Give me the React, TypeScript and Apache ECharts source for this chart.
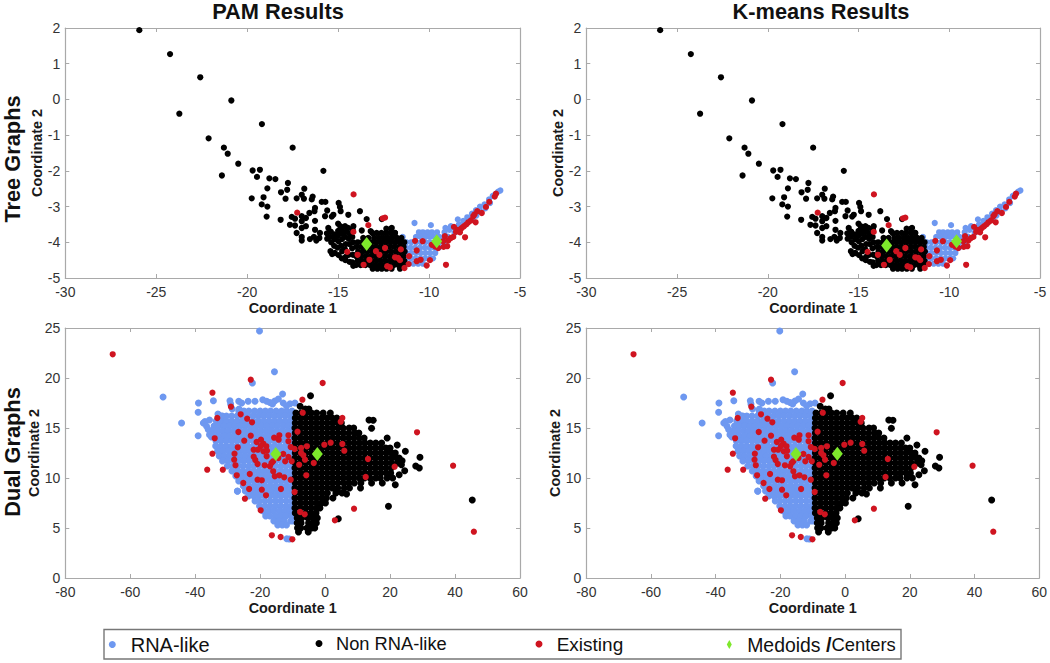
import React, { useEffect, useRef } from "react";
import * as echarts from "echarts";

type Row = number[]; // first value is y, the rest are x values read along that height
const fromRows = (rows: Row[]) => rows.flatMap((r) => r.slice(1).map((x) => [x, r[0]]));

const panelTitles = ["PAM Results", "K-means Results"];
const rowTitles = ["Tree Graphs", "Dual Graphs"];
const xTitle = "Coordinate 1";
const yTitle = "Coordinate 2";
const legendNames = ["RNA-like", "Non RNA-like", "Existing", "Medoids/Centers"];

// ---- Tree graphs ----
const treeBlackSparse = [
  [-25.93,1.94],[-24.24,1.27],[-22.58,0.62],[-20.87,-0.03],[-23.73,-0.4],[-19.19,-0.69],[-22.12,-1.09],[-21.28,-1.35],[-21.07,-1.52],[-17.5,-1.35],
  [-20.49,-1.8],[-21.39,-2.13],[-19.7,-1.99],[-19.3,-1.97],[-15.81,-2],[-19.46,-2.17],[-18.78,-2.21],[-18.45,-2.23],[-17.76,-2.34],[-18.89,-2.49],
  [-17.8,-2.53],[-16.86,-2.5],[-18.14,-2.6],[-19.75,-2.77],[-19.1,-2.74],[-17.89,-2.78],[-17.28,-2.77],[-17,-2.67],[-16.88,-2.78],[-16.4,-2.72],
  [-16.45,-2.8],[-15.9,-2.87],[-15.7,-2.87],[-14.97,-2.9],[-14.9,-3.01],[-19.2,-2.94],[-18.89,-3],[-18.93,-3.28],[-18.16,-3.37],[-13.8,-3.13],
  [-16.27,-3.04],[-16.3,-3.13],[-16.58,-3.18],[-16.77,-3.32],[-17,-3.27],[-17.55,-3.29],[-17.37,-3.34],[-17.65,-3.51],[-17.37,-3.53],[-17,-3.41],
  [-16.77,-3.55],[-17,-3.6],[-17.28,-3.74],[-17,-3.85],[-17,-3.95],[-16.55,-3.91],[-16.33,-3.85],[-16.27,-3.4],[-16.27,-3.65],[-16,-3.74],
  [-16.03,-3.88],[-16.2,-3.95],[-15.72,-3.27],[-15.6,-3.11],[-15.26,-3.23],[-15.35,-3.28],[-14.86,-3.13],[-14.44,-3.23],[-15.54,-3.6],[-15,-3.48],
  [-14.62,-3.55],[-14.16,-3.55],[-13.43,-3.35],[-13.7,-3.67],[-13.21,-3.69],[-12.6,-3.35],[-12.05,-3.6],[-11.87,-3.74],[-14.88,-3.55],[-14.45,-3.6],
  [-15.62,-3.75],[-15.6,-3.9],[-15.4,-3.7],[-15.42,-3.85],[-15.38,-4],[-15.42,-4.25],[-15.33,-4.33],[-15.2,-3.78],[-15.18,-3.92],[-15.22,-4.1],
  [-15.18,-4.3],[-15,-3.68],[-15.02,-3.82],[-14.98,-3.97],[-15.03,-4.15],[-14.97,-4.36],[-14.8,-3.62],[-14.82,-3.76],[-14.78,-3.91],[-14.83,-4.1],
  [-14.78,-4.25],[-14.8,-4.45],[-14.6,-3.71],[-14.62,-3.85],[-14.58,-4.05],[-14.62,-4.2],[-14.57,-4.4],[-14.6,-4.5],[-14.4,-3.75],[-14.42,-3.9],
  [-14.38,-4.05],[-14.42,-4.35],[-14.37,-4.55],[-14.2,-3.65],[-14.22,-3.85],[-14.18,-4],[-14.23,-4.17],[-14.18,-4.35],[-14.22,-4.56],[-14.17,-4.66],
];
const treeBlackDenseRows: Row[] = [
  [-3.62, -12.35,-12.1],
  [-3.74, -13.12,-12.88,-12.62,-12.38,-12.12,-11.88],
  [-3.88, -13.62,-13.34,-13.02,-12.76,-12.5,-12.26,-12.02,-11.76,-11.52],
  [-4.0, -13.92,-13.66,-13.4,-13.14,-12.88,-12.62,-12.36,-12.1,-11.84,-11.58,-11.36],
  [-4.13, -14,-13.74,-13.48,-13.22,-12.96,-12.7,-12.44,-12.18,-11.92,-11.66,-11.4],
  [-4.26, -13.9,-13.64,-13.38,-13.12,-12.86,-12.6,-12.34,-12.08,-11.82,-11.56,-11.34],
  [-4.39, -14,-13.74,-13.48,-13.22,-12.96,-12.7,-12.44,-12.18,-11.92,-11.66,-11.4],
  [-4.52, -13.92,-13.66,-13.4,-13.14,-12.88,-12.62,-12.36,-12.1,-11.84,-11.58,-11.36],
  [-4.64, -14.02,-13.76,-13.5,-13.24,-12.98,-12.72,-12.46,-12.2,-11.94,-11.68,-11.42],
  [-4.74, -13.1,-12.84,-12.6,-12.34,-12.06,-11.6],
];
const treeBlueRows: Row[] = [
  [-3.46, -10.8],
  [-3.52, -9.9],
  [-3.72, -10.56,-10.34,-10.08,-9.84,-9.56],
  [-3.85, -11.45,-10.72,-10.46,-10.2,-9.96,-9.7,-9.44,-9.2],
  [-4.0, -11.25,-10.98,-10.72,-10.46,-10.2,-9.95,-9.68,-9.42,-9.18],
  [-4.15, -11.28,-11.02,-10.76,-10.5,-10.24,-9.98,-9.72,-9.46],
  [-4.3, -11.24,-10.98,-10.72,-10.46,-10.2,-9.94,-9.66],
  [-4.45, -11.26,-11,-10.74,-10.48,-10.22,-9.96,-9.78],
  [-4.6, -11.12,-10.86,-10.6,-10.34],
];
const treeBlueBand = [
  [-9.15,-3.72],[-8.88,-3.65],[-8.96,-3.84],[-9.1,-3.6],[-8.8,-3.55],[-8.6,-3.6],[-8.36,-3.5],[-8.6,-3.74],[-8.36,-3.64],[-8.42,-3.36],
  [-8.12,-3.4],[-8.14,-3.55],[-7.9,-3.3],[-7.9,-3.45],[-7.64,-3.2],[-7.6,-3.35],[-7.42,-3.1],[-7.4,-3.25],[-7.2,-3],[-7.15,-3.15],
  [-6.95,-2.94],[-6.9,-3.05],[-6.7,-2.8],[-6.65,-2.9],[-6.5,-2.7],[-6.35,-2.65],[-6.2,-2.58],[-6.08,-2.55],
];
const treeRed = [
  [-14.15,-2.66],[-17.25,-3.17],[-13.34,-3.52],[-12.55,-3.33],[-12.42,-3.31],[-14.16,-3.71],[-14.5,-4.27],[-13.93,-4.35],[-13.6,-4.63],[-13.28,-4.49],
  [-12.92,-4.25],[-12.73,-4.35],[-12.42,-4.16],[-12.3,-4.67],[-12.15,-4.7],[-11.87,-4.42],[-11.7,-4.44],[-11.55,-4.2],[-11.6,-4.5],[-11.35,-4.72],
  [-11.12,-4.61],[-11.1,-4.39],[-10.77,-3.96],[-10.35,-3.97],[-10.68,-4.23],[-10.68,-4.53],[-10.46,-4.49],[-10.13,-4.65],[-9.95,-4.5],[-9.07,-4.63],
  [-9.85,-4.07],[-9.67,-4.12],[-9.5,-4.16],[-9.2,-4.13],[-9,-4.11],[-9.13,-3.83],[-9.22,-3.97],[-8.94,-3.95],[-8.67,-3.85],[-8.52,-3.71],
  [-8.63,-3.57],[-8.2,-3.6],[-8.08,-3.55],[-8.02,-3.86],[-7.84,-3.44],[-7.7,-3.39],[-7.44,-3.44],[-7.57,-3.27],[-7.35,-3.13],[-7.1,-3.18],
  [-6.87,-3.01],[-6.69,-2.87],[-6.39,-2.72],[-6.32,-2.64],[-8.8,-3.88],[-8.4,-3.65],[-8.3,-3.72],[-7.95,-3.5],[-7.5,-3.22],
];
const treeMedoidsPam = [[-13.43,-4.05],[-9.58,-3.97]];
const treeCentersKmeans = [[-13.45,-4.09],[-9.6,-3.97]];

// ---- Dual graphs ----
const dualBlueRows: Row[] = [
  [16.7, -26.6,-25,-23.5,-21.7,-20,-18.4,-16.8,-15.1,-13.4,-11.8,-10.2],
  [16.2, -31.6,-30.4,-28.8,-27.1,-25.5,-23.9,-22.2,-20.6,-19,-17.3,-15.7,-14,-12.4,-10.8,-9.8],
  [15.7, -33.5,-32,-30.4,-28.7,-27,-25.4,-23.8,-22.1,-20.5,-18.8,-17.2,-15.5,-13.9,-12.2,-10.6,-9.7],
  [15.2, -34.2,-32.7,-31.1,-29.4,-27.8,-26.1,-24.5,-22.8,-21.2,-19.5,-17.9,-16.2,-14.6,-12.9,-11.3,-9.8],
  [14.7, -34.6,-33.2,-31.5,-29.9,-28.2,-26.6,-24.9,-23.3,-21.6,-20,-18.3,-16.7,-15,-13.4,-11.7,-10.1],
  [14.2, -34.3,-32.7,-31,-29.4,-27.7,-26.1,-24.4,-22.8,-21.1,-19.5,-17.8,-16.2,-14.5,-12.9,-11.2,-9.8],
  [13.7, -33.6,-32,-30.4,-28.7,-27.1,-25.4,-23.8,-22.1,-20.5,-18.8,-17.2,-15.5,-13.9,-12.2,-10.6,-9.7],
  [13.2, -33.7,-32.1,-30.5,-28.8,-27.2,-25.5,-23.9,-22.2,-20.6,-18.9,-17.3,-15.6,-14,-12.3,-10.7,-9.8],
  [12.7, -33.1,-31.5,-29.8,-28.2,-26.5,-24.9,-23.2,-21.6,-19.9,-18.3,-16.6,-15,-13.3,-11.7,-10.1],
  [12.2, -32.6,-31,-29.3,-27.7,-26,-24.4,-22.7,-21.1,-19.4,-17.8,-16.1,-14.5,-12.8,-11.2,-9.8],
  [11.7, -31.6,-29.9,-28.3,-26.6,-25,-23.3,-21.7,-20,-18.4,-16.7,-15.1,-13.4,-11.8,-10.1],
  [11.2, -30.1,-28.5,-26.8,-25.2,-23.5,-21.9,-20.2,-18.6,-16.9,-15.3,-13.6,-12,-10.3],
  [10.7, -28.7,-27,-25.4,-23.7,-22.1,-20.4,-18.8,-17.1,-15.5,-13.8,-12.2,-10.5,-9.8],
  [10.2, -27.5,-25.9,-24.2,-22.6,-20.9,-19.3,-17.6,-16,-14.3,-12.7,-11,-9.8],
  [9.7, -26.6,-25,-23.3,-21.7,-20,-18.4,-16.7,-15.1,-13.4,-11.8,-10.1],
  [9.2, -25.2,-23.6,-21.9,-20.3,-18.6,-17,-15.3,-13.7,-12,-10.4,-9.8],
  [8.7, -27,-24.6,-23,-21.3,-19.7,-18,-16.4,-14.7,-13.1,-11.4,-9.9],
  [8.2, -23.6,-22,-20.3,-18.7,-17,-15.4,-13.7,-12.1,-10.4],
  [7.7, -21.6,-20.2,-18.5,-16.9,-15.2,-13.6,-11.9,-10.3],
  [7.2, -20.2,-18.6,-17,-15.3,-13.7,-12,-10.4],
  [6.7, -19.1,-17.4,-15.8,-14.1,-12.5,-10.9,-9.8],
  [6.2, -18.3,-17,-15.2,-13.6,-12,-10.2],
  [5.7, -15.8,-14.2,-12.6,-10.6,-9.8],
  [5.3, -14.6,-13.2,-11.9],
];
const dualBlueOutliers = [
  [-20.2,24.7],[-15.6,20.63],[-22.4,19.5],[-49.9,18.1],[-34.4,17.73],[-39,17.5],[-39.1,16.57],[-44.2,15.5],[-39.1,14.23],[-13.1,18.4],
  [-14.4,17.9],[-15.5,17.7],[-16.2,17.4],[-29.3,17.73],[-29.1,17.4],[-26.6,17.67],[-25.7,17.5],[-23.7,17.67],[-21.6,17.67],[-19.2,17.83],
  [-18,17.67],[-17,17.55],[-12.9,17.5],[-10.8,17.43],[-9.3,17.5],[-11.9,17.2],[-37.5,15.5],[-37,15.65],[-36.5,15.17],[-36,14.85],
  [-35.6,14.33],[-35,14.1],[-27,8.67],[-11.8,3.93],[-11,3.9],[-33,16.4],[-32,16.2],[-28.6,16.9],[-26.5,16.9],[-35.6,15.8],
];
const dualBlackRows: Row[] = [
  [16.9, -6.1,-5],
  [16.5, -9,-7.4,-5.8,-4.2,-2.6,-0.6,1.6],
  [16, -9.2,-7.6,-6,-4.4,-2.7,-1.1,0.6,2.2,3.6],
  [15.5, -9.2,-7.5,-5.9,-4.2,-2.6,-0.9,0.7,2.4,4,5],
  [15, -9.3,-7.7,-6,-4.4,-2.7,-1.1,0.6,2.2,3.9,5.5,7.4,8.8],
  [14.5, -9.2,-7.5,-5.9,-4.2,-2.6,-0.9,0.7,2.4,4,5.7,7.3,9.2,10.4],
  [14, -9.3,-7.7,-6,-4.4,-2.7,-1.1,0.6,2.2,3.9,5.5,7.2,8.8,10.5,12],
  [13.5, -9.2,-7.5,-5.9,-4.2,-2.6,-0.9,0.7,2.4,4,5.7,7.3,9,10.6,12.3,13.9,15.6,17.4],
  [13, -9.3,-7.7,-6,-4.4,-2.7,-1.1,0.6,2.2,3.9,5.5,7.2,8.8,10.5,12.1,13.8,15.4,17.1,18.7,20],
  [12.5, -9.2,-7.5,-5.9,-4.2,-2.6,-0.9,0.7,2.4,4,5.7,7.3,9,10.6,12.3,13.9,15.6,17.2,18.9,20.5,21.6],
  [12, -9.3,-7.7,-6,-4.4,-2.7,-1.1,0.6,2.2,3.9,5.5,7.2,8.8,10.5,12.1,13.8,15.4,17.1,18.7,20.4,22,22.8],
  [11.5, -9.2,-7.5,-5.9,-4.2,-2.6,-0.9,0.7,2.4,4,5.7,7.3,9,10.6,12.3,13.9,15.6,17.2,18.9,20.5,22.3],
  [11, -9.3,-7.7,-6,-4.4,-2.7,-1.1,0.6,2.2,3.9,5.5,7.2,8.8,10.5,12.1,13.8,15.4,17.1,18.7,20.4],
  [10.5, -9.2,-7.5,-5.9,-4.2,-2.6,-0.9,0.7,2.4,4,5.7,7.3,9,10.6,12.3,13.9,15.6,17.2,18.8,20.2],
  [10, -9.3,-7.7,-6,-4.4,-2.7,-1.1,0.6,2.2,3.9,5.5,7.2,8.8,10.5,12.1,13.8,15.6,17,19.1,20.8],
  [9.5, -9.2,-7.5,-5.9,-4.2,-2.6,-0.9,0.7,2.4,4,5.7,7.3,9,11,14.3,17.6],
  [9, -9.3,-7.7,-6,-4.4,-2.7,-1.1,0.6,2.2,3.9,5.9,7.5,10.9],
  [8.5, -9.2,-7.5,-5.9,-4.2,-2.6,-0.9,0.7,3.3,5.2],
  [8, -9.3,-7.7,-6,-4.4,-2.7,-1.1,0.4,2.4],
  [7.5, -9.2,-7.5,-5.9,-4.2,-2.6,-1.1,0.1],
  [7, -9.3,-7.7,-6,-4.4,-2.7,-1.6],
  [6.5, -9.2,-7.6,-5.9,-4.2,-2.8],
  [6, -8.6,-7.2,-5.3,-3.8,-2.4],
  [5.5, -8.6,-7.4,-5.1,-3.6,-2.7],
  [5, -8.5,-7.5,-5.6,-4.2,-3.2],
  [4.6, -8.2,-5.2],
];
const dualBlackOutliers = [
  [-4.5,18.23],[-7.7,17.17],[13.5,15.8],[14.8,15.77],[14.3,14.97],[19.1,14],[22.2,13.3],[24.7,12.67],[29.2,12.07],[27.9,11.2],
  [29,11],[23.7,11.73],[23.5,11.33],[24.5,10.73],[22.8,10.33],[21.6,9.33],[19.5,7.17],[45.3,7.8],[4.05,5.93],[3.5,8.67],[6.6,8.4],
];
const dualRed = [
  [-65.4,22.37],[-22.9,19.83],[-0.76,19.5],[-34.7,18.53],[-7,17.83],[-29,17.13],[-6.9,16.53],[-33.2,16],[-26,16.37],[-24,15.93],
  [-22.5,15.57],[5.3,16],[4.8,15.63],[-26.7,14.6],[-8.5,14.63],[28.3,14.57],[-34,13.97],[-22.9,14.23],[-11.3,14.27],[-14.1,14.27],
  [-15.7,14.03],[-14.3,13.83],[-11.3,13.67],[-19.75,13.83],[-21.1,13.6],[-19,13.43],[-24.9,13.73],[-26.9,13.07],[-19.8,13.2],[-22,12.83],
  [-20.7,12.83],[-18.1,13.17],[-19,12.67],[-17.9,12.73],[5.3,13.4],[-0.25,13.33],[1.7,13.53],[5.9,12.73],[-5.6,13.17],[-10.6,13.1],
  [-9.4,12.9],[-7.4,13],[-27.9,12.43],[-34.7,12.43],[-28,11.83],[-27.6,11.27],[-27.2,10.27],[-12.9,12.4],[-11.3,12.1],[-10.3,11.67],
  [-12.3,11.67],[-7.4,12.5],[-6.7,12.27],[-6.2,11.83],[-8,11.33],[-3.5,11.5],[13.2,11.9],[21.4,11.13],[12.5,10.1],[39.4,11.23],
  [-36.3,10.83],[-31.5,10.83],[-23.2,10.4],[-5.8,10.27],[-25.2,9.5],[-23.4,8.9],[-24.7,7.93],[-20.8,9.83],[-19.5,9.77],[-19.5,8.83],
  [-13.6,8.9],[-18.2,8.27],[-9.4,8.6],[-10.6,9.83],[-12.6,10.07],[-14.1,10.27],[-15.5,10.17],[-16,10.67],[-17,11.17],[-18.6,11.27],
  [-16.5,11.5],[-18,12.17],[-22,12.13],[-21.5,11.8],[-20.8,11.4],[-16,11.67],[-14.4,12],[-19.85,6.77],[-7.7,6.6],[-6.3,6.37],
  [3,5.77],[8.9,6.93],[45.8,4.63],[-16.4,4.27],[-13.7,4.1],[-10.1,3.87],
];
const dualMedoidsPam = [[-15.2,12.4],[-2.4,12.4]];
const dualCentersKmeans = [[-15.2,12.4],[-2.4,12.43]];

const treeBlue = [...fromRows(treeBlueRows), ...treeBlueBand];
const treeBlack = [...treeBlackSparse, ...fromRows(treeBlackDenseRows)];
const dualBlue = [...fromRows(dualBlueRows), ...dualBlueOutliers];
const dualBlack = [...fromRows(dualBlackRows), ...dualBlackOutliers];

const treeX = { min: -30, max: -5, interval: 5 };
const treeY = { min: -5, max: 2, interval: 1 };
const dualX = { min: -80, max: 60, interval: 20 };
const dualY = { min: 0, max: 25, interval: 5 };

const COLORS = { blue: "#6e98f0", black: "#000000", red: "#cf1420", green: "#7ee82c" };
const FRAME = "#a9a9a9";
const LABEL = "#333333";
const FONT = "'Liberation Sans', Arial, sans-serif";

const panels = [
  { left: 65.3, top: 28, width: 454.7, x: treeX, y: treeY, blue: treeBlue, black: treeBlack, red: treeRed, mid: treeMedoidsPam, yGap: 20, dot: 6.2 },
  { left: 586.3, top: 28, width: 453.7, x: treeX, y: treeY, blue: treeBlue, black: treeBlack, red: treeRed, mid: treeCentersKmeans, yGap: 21, dot: 6.2 },
  { left: 65.3, top: 328, width: 454.7, x: dualX, y: dualY, blue: dualBlue, black: dualBlack, red: dualRed, mid: dualMedoidsPam, yGap: 22, dot: 7 },
  { left: 586.3, top: 328, width: 453.7, x: dualX, y: dualY, blue: dualBlue, black: dualBlack, red: dualRed, mid: dualCentersKmeans, yGap: 22, dot: 7 },
];

function buildOption() {
  const grid: any[] = [];
  const xAxis: any[] = [];
  const yAxis: any[] = [];
  const series: any[] = [];
  const line = { show: true, onZero: false, lineStyle: { color: FRAME, width: 1.2 } };
  const tick = { show: true, inside: true, length: 4, lineStyle: { color: FRAME, width: 1 } };
  panels.forEach((p, i) => {
    grid.push({ left: p.left, top: p.top, width: p.width, height: 250, containLabel: false });
    xAxis.push({
      gridIndex: i, type: "value", position: "bottom", ...p.x, name: xTitle, nameLocation: "middle", nameGap: 23,
      nameTextStyle: { fontFamily: FONT, fontWeight: "bold", fontSize: 14.4, color: "#1a1a1a" },
      axisLine: line, axisTick: tick, splitLine: { show: false },
      axisLabel: { fontFamily: FONT, fontSize: 14, color: LABEL, margin: 7 },
    });
    xAxis.push({
      gridIndex: i, type: "value", position: "top", ...p.x, axisLine: line, axisTick: tick,
      splitLine: { show: false }, axisLabel: { show: false },
    });
    yAxis.push({
      gridIndex: i, type: "value", position: "left", ...p.y, name: yTitle, nameLocation: "middle", nameGap: p.yGap,
      nameTextStyle: { fontFamily: FONT, fontWeight: "bold", fontSize: 14.4, color: "#1a1a1a" },
      axisLine: line, axisTick: tick, splitLine: { show: false },
      axisLabel: { fontFamily: FONT, fontSize: 14, color: LABEL, margin: 5 },
    });
    yAxis.push({
      gridIndex: i, type: "value", position: "right", ...p.y, axisLine: line, axisTick: tick,
      splitLine: { show: false }, axisLabel: { show: false },
    });
    const common = { type: "scatter", xAxisIndex: i * 2, yAxisIndex: i * 2, silent: true, clip: false };
    series.push({ ...common, name: legendNames[0], data: p.blue, symbol: "circle", symbolSize: p.dot, itemStyle: { color: COLORS.blue, opacity: 1 }, z: 2 });
    series.push({ ...common, name: legendNames[1], data: p.black, symbol: "circle", symbolSize: p.dot, itemStyle: { color: COLORS.black, opacity: 1 }, z: 3 });
    series.push({ ...common, name: legendNames[2], data: p.red, symbol: "circle", symbolSize: 6.2, itemStyle: { color: COLORS.red, opacity: 1 }, z: 4 });
    series.push({ ...common, name: legendNames[3], data: p.mid, symbol: "diamond", symbolSize: [11, 14], itemStyle: { color: COLORS.green, opacity: 1 }, z: 5 });
  });
  const legendItem = (idx: number, left: number, icon: string, w: number, h: number, pad: number, rich: string, size: number, more: any = {}) => ({
    show: true, orient: "horizontal", left, top: 634.5, padding: 0, itemWidth: w, itemHeight: h,
    data: [{ name: legendNames[idx], icon }], selectedMode: false,
    formatter: () => rich,
    textStyle: {
      rich: {
        a: { fontFamily: FONT, fontSize: size, color: "#111111", padding: [0, 0, 0, pad] },
        ...more,
      },
    },
  });
  return {
    animation: false,
    backgroundColor: "#ffffff",
    tooltip: { show: false },
    title: [
      { text: panelTitles[0], left: 278, top: 0, padding: 0, textAlign: "center", textStyle: { fontFamily: FONT, fontWeight: "bold", fontSize: 21.8, color: "#111111" } },
      { text: panelTitles[1], left: 821, top: 0, padding: 0, textAlign: "center", textStyle: { fontFamily: FONT, fontWeight: "bold", fontSize: 21.8, color: "#111111" } },
    ],
    grid, xAxis, yAxis, series,
    legend: [
      legendItem(0, 108.8, "circle", 7, 7, 9.9, "{a|RNA-like}", 20),
      legendItem(1, 315.5, "circle", 7, 7, 8.5, "{a|Non RNA-like}", 18.3),
      legendItem(2, 535.5, "circle", 7, 7, 9.2, "{a|Existing}", 19),
      legendItem(3, 726.8, "diamond", 5, 9, 10.4, "{a|Medoids }{b|/}{c|Centers}", 19.4, {
        b: { fontFamily: FONT, fontSize: 20, fontWeight: "bold", color: "#111111" },
        c: { fontFamily: FONT, fontSize: 18.4, color: "#111111" },
      }),
    ],
    graphic: [
      { type: "rect", silent: true, shape: { x: 104, y: 629.5, width: 797, height: 29.5 }, style: { fill: "none", stroke: "#777777", lineWidth: 1.4 } },
      { type: "text", silent: true, x: 12, y: 159, rotation: Math.PI / 2, style: { text: rowTitles[0], fontFamily: FONT, fontWeight: "bold", fontSize: 21.8, fill: "#111111", textAlign: "center", textVerticalAlign: "middle" } },
      { type: "text", silent: true, x: 12, y: 452, rotation: Math.PI / 2, style: { text: rowTitles[1], fontFamily: FONT, fontWeight: "bold", fontSize: 21.8, fill: "#111111", textAlign: "center", textVerticalAlign: "middle" } },
    ],
  };
}

export default function App() {
  const ref = useRef<HTMLDivElement>(null);
  useEffect(() => {
    const chart = echarts.init(ref.current!, undefined, { renderer: "svg" });
    chart.setOption(buildOption() as any);
    return () => chart.dispose();
  }, []);
  return <div ref={ref} style={{ position: "absolute", left: 0, top: 0, width: 1050, height: 663 }} />;
}
